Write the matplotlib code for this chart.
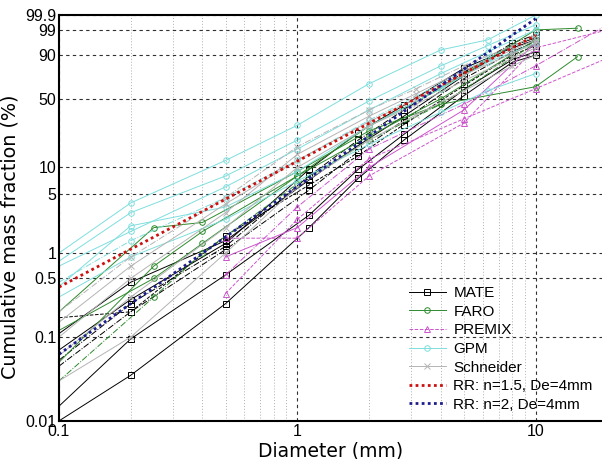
import numpy as np
import matplotlib
matplotlib.use("Agg")
import matplotlib.pyplot as plt
from matplotlib.ticker import FixedLocator, NullFormatter

# sieve diameters (mm) and cumulative passing (%)
mate_d = [0.1, 0.2, 0.5, 1.12, 1.8, 2.8, 5, 8, 10]
mate_f = [
    [0.01, 0.035, 0.25, 2.0, 7.5, 20, 53, 85, 90],
    [0.015, 0.095, 0.55, 2.8, 9.5, 23, 59, 87, 92],
    [0.045, 0.2, 1.1, 5.5, 15, 32, 70, 92, 96.5],
    [0.11, 0.45, 1.4, 7.2, 17.5, 35, 73, 95, 97.5],
    [0.17, 0.2, 1.6, 6.3, 13.5, 29, 63, 90, 95],
    [0.053, 0.25, 1.2, 8, 20, 40, 76, 96, 98.2],
    [0.07, 0.28, 1.3, 9.5, 24, 44, 80, 94, 97],
]

faro_d = [0.1, 0.25, 0.4, 1, 2, 4, 10, 15]
faro_f = [
    [0.2, 2.0, 2.3, 9, 25, 45, 62, 89],
    [0.05, 0.7, 1.8, 8, 22, 50, 97, np.nan],
    [0.03, 0.3, 1.0, 6.5, 20, 45, 96, np.nan],
    [0.12, 0.5, 1.3, 8, 28, 60, 99, 99.2],
]

premix_d = [0.5, 1, 2, 5, 10, 20]
premix_f = [
    [0.33, 2.5, 12.5, 33, 60, 88],
    [0.55, 3.5, 16, 45, 82, 99.5],
    [1.5, 1.5, 8, 30, 94, 99],
    [0.9, 2.0, 10, 40, 96, np.nan],
]

gpm_d = [0.1, 0.2, 0.5, 1, 2, 4, 6.3, 10]
gpm_f = [
    [1.0, 3.9, 12, 28.5, 65, 93, 97, 99.9],
    [0.7, 1.8, 6, 16, 40, 75, 92, 99],
    [0.45, 1.4, 4.5, 12, 32, 65, 88, 98],
    [0.4, 2.1, 3.5, 9, 28, 60, 85, 96],
    [0.8, 3, 8, 20, 48, 82, 95, 99.5],
    [0.3, 0.9, 2.5, 7, 18, 38, 58, 75],
]

schneider_d = [0.1, 0.2, 0.5, 1, 2, 3.15, 5, 8, 10]
schneider_f = [
    [0.1, 0.5, 3, 14, 35, 55, 78, 93, 97],
    [0.06, 0.3, 2, 10, 28, 45, 68, 88, 94],
    [0.2, 0.9, 4.5, 17, 40, 60, 82, 95, 98],
    [0.03, 0.1, 1, 6, 20, 36, 58, 82, 90],
    [0.15, 0.7, 3.8, 12, 31, 50, 74, 91, 96],
]

# Rosin-Rammler reference lines, De = 4 mm
rr_d = [0.1, 0.2, 0.5, 1, 2, 5, 10]
rr15_f = [0.394, 1.11, 4.32, 11.75, 29.8, 75.3, 98.08]
rr2_f = [0.0625, 0.25, 1.55, 6.06, 22.1, 79.0, 99.81]

y_ticks = [0.01, 0.1, 0.5, 1, 5, 10, 50, 90, 99, 99.9]
y_labels = ["0.01", "0.1", "0.5", "1", "5", "10", "50", "90", "99", "99.9"]


def weib(p):
    p = np.clip(np.asarray(p, dtype=float), 1e-7, 99.99999) / 100.0
    return np.log(-np.log(1.0 - p))


def weib_inv(w):
    return 100.0 * (1.0 - np.exp(-np.exp(np.asarray(w, dtype=float))))


fig = plt.figure(figsize=(6.02, 4.59), dpi=100)
ax = fig.add_axes([0.098, 0.083, 0.902, 0.884])
ax.set_xscale("log")
ax.set_yscale("function", functions=(weib, weib_inv))

groups = [
    ("MATE", mate_d, mate_f, "black", "s", ["-", "-", "-.", "-", "--", "-.", "-"]),
    ("FARO", faro_d, faro_f, "#2e8b2e", "o", ["-", "-", "-.", "-"]),
    ("PREMIX", premix_d, premix_f, "#cc55cc", "^", ["--", "-.", "--", "-"]),
    ("GPM", gpm_d, gpm_f, "#7fdede", "o", ["-", "-", "-.", "-", "-", "-"]),
    ("Schneider", schneider_d, schneider_f, "#b4b4b4", "x", ["-", "-", "-.", "-", "-"]),
]

for name, d, curves, color, marker, styles in groups:
    for i, f in enumerate(curves):
        start = 1 if d[0] <= 0.1 else 0
        ax.plot(d, f, color=color, ls=styles[i], lw=0.7, marker=marker,
                ms=4, mfc="none", mew=0.7, markevery=slice(start, None),
                label=name if i == 0 else None)

ax.plot(rr_d, rr15_f, color="#cc1010", ls=(0, (1, 1.2)), lw=2,
        label="RR: n=1.5, De=4mm")
ax.plot(rr_d, rr2_f, color="#1c1c8c", ls=(0, (1, 1.2)), lw=2,
        label="RR: n=2, De=4mm")

ax.set_xlim(0.1, 19)
ax.set_ylim(0.01, 99.9)
ax.yaxis.set_major_locator(FixedLocator(y_ticks))
ax.set_yticklabels(y_labels)
ax.yaxis.set_minor_locator(FixedLocator([]))
ax.set_xticks([0.1, 1, 10])
ax.set_xticklabels(["0.1", "1", "10"])
ax.xaxis.set_minor_formatter(NullFormatter())

ax.grid(True, which="major", axis="both", color="#303030", ls=(0, (3, 3)), lw=0.8)
ax.grid(True, which="minor", axis="x", color="#b0b0b0", ls=(0, (1, 2)), lw=0.7)
ax.set_axisbelow(True)

for s in ["left", "bottom", "top"]:
    ax.spines[s].set_linewidth(1.5)
ax.spines["right"].set_visible(False)
ax.tick_params(which="both", length=0, pad=2, labelsize=11.5)
for t in ax.get_xticklabels() + ax.get_yticklabels():
    t.set_family("Liberation Sans")

ax.set_xlabel("Diameter (mm)", fontsize=13.5, labelpad=2)
ax.set_ylabel("Cumulative mass fraction (%)", fontsize=13.8)
ax.yaxis.set_label_coords(-0.072, 0.455)

ax.legend(loc="lower right", bbox_to_anchor=(1.0, 0.0), frameon=False,
          prop={"family": "Liberation Sans", "size": 11},
          handlelength=2.4, handletextpad=0.5, labelspacing=0.3,
          numpoints=1, borderaxespad=0.2)

fig.savefig("out.png", dpi=100)
